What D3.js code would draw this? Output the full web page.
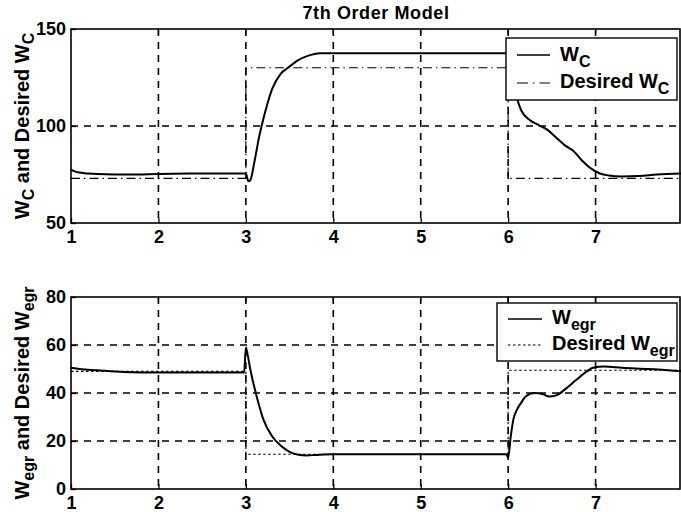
<!DOCTYPE html>
<html><head><meta charset="utf-8">
<script src="https://cdn.jsdelivr.net/npm/d3@7"></script>
<style>body{margin:0;background:#fff}svg{display:block}text{font-family:"Liberation Sans",Arial,sans-serif;fill:#000}</style>
</head><body>
<script>
// ---- data ----
const xTicks = [1,2,3,4,5,6,7,8];
const topYTicks = [50,100,150];
const botYTicks = [0,20,40,60,80];

const wcT = [1.0,1.05,1.1,1.2,1.3,1.5,1.7,2.0,2.5,2.9,3.0,3.03,3.05,3.1,3.15,3.18,3.25,3.3,3.4,3.48,3.6,3.7,3.85,4.0,5.0,6.0,6.03,6.08,6.15,6.25,6.35,6.45,6.55,6.65,6.75,6.85,6.95,7.05,7.15,7.3,7.5,7.7,8.0];
const wcV = [77.5,76.5,76,75.5,75.2,75,75,75.3,75.5,75.5,75.5,71.5,72,82,94,100,112,119,127,130,134,136,137.5,137.5,137.5,137.5,130,118,108,103,100.5,98,94,90,87,82,78,75.5,74.5,74,74.2,75,75.5];
const wcDesT = [1,3,3,6,6,8];
const wcDesV = [73,73,130,130,73,73];

const weT = [1.0,1.1,1.3,1.6,2.0,2.5,2.98,3.0,3.02,3.05,3.1,3.15,3.2,3.3,3.4,3.5,3.6,3.7,3.8,4.0,5.0,5.98,6.0,6.03,6.06,6.1,6.15,6.2,6.3,6.4,6.47,6.55,6.65,6.78,6.9,6.97,7.1,7.3,7.6,8.0];
const weV = [50.5,50,49.5,48.8,48.5,48.5,48.5,59,56,50,42,35,29,22,18,15.5,14.3,14,14.2,14.5,14.5,14.5,13,22,29,33,36,38.5,40,39.5,38.5,39,41.5,45.5,49,50.5,51,50.5,50,49];
const weDesT = [1,3,3,6,6,8];
const weDesV = [49,49,14.5,14.5,49.5,49.5];

// ---- layout ----
const W = 681, H = 512;
const svg = d3.select("body").append("svg").attr("width", W).attr("height", H);
const x = d3.scaleLinear().domain([1,8]).range([71, 683]);
const left = 71, right = 680;

function panel(y, yTicks, tArr, vArr, dT, dV, desDash, label, legend) {
  const g = svg.append("g");
  const [y0, y1] = y.range();
  g.selectAll(".gx").data(xTicks.filter(d => d > 1 && d < 8)).join("line")
    .attr("x1", d => x(d)).attr("x2", d => x(d)).attr("y1", y1).attr("y2", y0)
    .attr("stroke", "#000").attr("stroke-width", 1.6).attr("stroke-dasharray", "7,6");
  g.selectAll(".gy").data(yTicks.slice(1, -1)).join("line")
    .attr("x1", left).attr("x2", right).attr("y1", d => y(d)).attr("y2", d => y(d))
    .attr("stroke", "#000").attr("stroke-width", 1.6).attr("stroke-dasharray", "7,6");
  const line = d3.line().x(d => x(d[0])).y(d => y(d[1]));
  g.append("path").datum(dT.map((t, i) => [t, dV[i]])).attr("d", line)
    .attr("fill", "none").attr("stroke", "#000").attr("stroke-width", 1.1).attr("stroke-dasharray", desDash);
  g.append("path").datum(tArr.map((t, i) => [t, vArr[i]])).attr("d", d3.line().curve(d3.curveMonotoneX).x(d => x(d[0])).y(d => y(d[1])))
    .attr("fill", "none").attr("stroke", "#000").attr("stroke-width", 2);
  g.append("rect").attr("x", left).attr("y", y1).attr("width", right - left).attr("height", y0 - y1)
    .attr("fill", "none").attr("stroke", "#000").attr("stroke-width", 1.6);
  const ax = d3.axisBottom(x).tickValues(xTicks.filter(d => d < 8)).tickFormat(d3.format("d")).tickSize(-5).tickPadding(7);
  const gx = g.append("g").attr("transform", `translate(0,${y0})`).call(ax);
  const ay = d3.axisLeft(y).tickValues(yTicks).tickFormat(d3.format("d")).tickSize(-5).tickPadding(5);
  const gy = g.append("g").attr("transform", `translate(${left},0)`).call(ay);
  [gx, gy].forEach(a => { a.select(".domain").remove(); a.selectAll("line").attr("stroke", "#000").attr("stroke-width", 1.3);
    a.selectAll("text").attr("font-size", 18).attr("font-family", "Liberation Sans, Arial, sans-serif").attr("font-weight", "bold").attr("fill", "#000"); });
  g.selectAll(".tt").data(xTicks.filter(d => d > 1 && d < 8)).join("line")
    .attr("x1", d => x(d)).attr("x2", d => x(d)).attr("y1", y1).attr("y2", y1 + 5).attr("stroke", "#000").attr("stroke-width", 1.3);
  const lab = svg.append("text").attr("transform", `translate(29,${(y0 + y1) / 2}) rotate(-90)`)
    .attr("text-anchor", "middle").attr("font-size", 20);
  label.forEach(p => lab.append("tspan").attr("baseline-shift", p.sub ? "-30%" : null).attr("font-size", p.sub ? 16 : 20).attr("font-weight", "bold").text(p.t));
  legend(g);
}

const yTop = d3.scaleLinear().domain([50,150]).range([223, 29]);
const yBot = d3.scaleLinear().domain([0,80]).range([489, 297]);

function legendBox(g, bx, by, bw, bh, rows) {
  g.append("rect").attr("x", bx).attr("y", by).attr("width", bw).attr("height", bh).attr("fill", "#fff").attr("stroke", "#000").attr("stroke-width", 1.4);
  rows.forEach(r => {
    g.append("line").attr("x1", r.lx1).attr("x2", r.lx2).attr("y1", r.ly).attr("y2", r.ly).attr("stroke", "#000").attr("stroke-width", r.w).attr("stroke-dasharray", r.dash);
    const t = g.append("text").attr("x", r.tx).attr("y", r.ty).attr("font-size", 20).attr("font-weight", "bold");
    r.parts.forEach(p => t.append("tspan").attr("baseline-shift", p.sub ? "-35%" : null).attr("font-size", p.sub ? 16 : 20).text(p.t));
  });
}

panel(yTop, topYTicks, wcT, wcV, wcDesT, wcDesV, "9,4,1.5,4",
  [{t:"W"},{t:"C",sub:true},{t:" and Desired W"},{t:"C",sub:true}],
  g => legendBox(g, 506, 38, 171, 62, [
    {lx1:517, lx2:550, ly:55, w:1.4, dash:null, tx:560, ty:61, parts:[{t:"W"},{t:"C",sub:true}]},
    {lx1:517, lx2:550, ly:83, w:1.1, dash:"11,5,1.5,5", tx:560, ty:88, parts:[{t:"Desired W"},{t:"C",sub:true}]}
  ]));

panel(yBot, botYTicks, weT, weV, weDesT, weDesV, "2.5,2.5",
  [{t:"W"},{t:"egr",sub:true},{t:" and Desired W"},{t:"egr",sub:true}],
  g => legendBox(g, 497, 303, 180, 58, [
    {lx1:508, lx2:542, ly:319, w:1.4, dash:null, tx:552, ty:324, parts:[{t:"W"},{t:"egr",sub:true}]},
    {lx1:508, lx2:542, ly:345, w:1.1, dash:"2.5,2.5", tx:552, ty:350, parts:[{t:"Desired W"},{t:"egr",sub:true}]}
  ]));

svg.append("text").attr("x", 376).attr("y", 19).attr("text-anchor", "middle").attr("font-size", 18).attr("font-weight", "bold").attr("letter-spacing", 0.6).text("7th Order Model");
</script>
</body></html>
